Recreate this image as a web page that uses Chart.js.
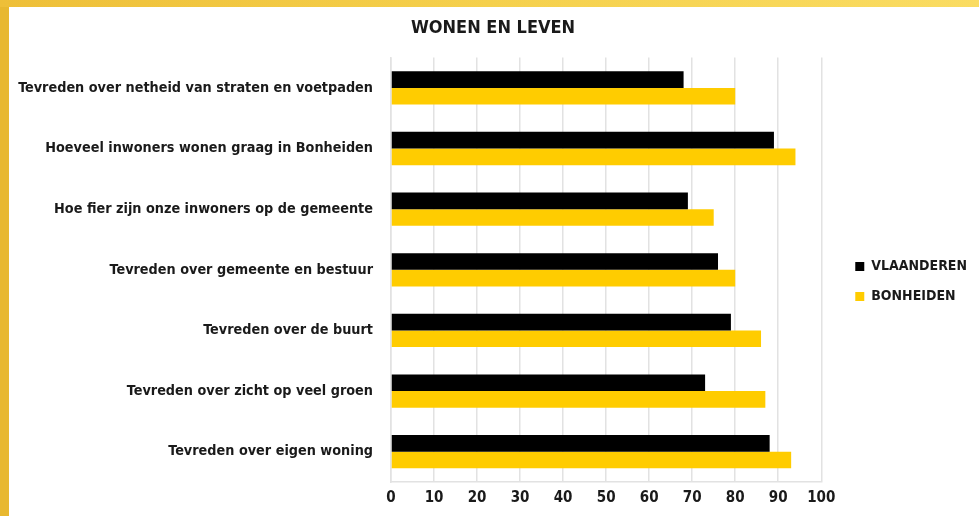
<!DOCTYPE html>
<html>
<head>
<meta charset="utf-8">
<script src="https://cdn.jsdelivr.net/npm/chart.js@4.4.1/dist/chart.umd.min.js"></script>
<style>
  html, body { margin: 0; padding: 0; }
  body {
    width: 979px; height: 516px; overflow: hidden;
    background: #e8b830;
    position: relative;
  }
  #topband {
    position: absolute; left: 0; top: 0; width: 979px; height: 7px;
    background: linear-gradient(to right, #eebf38, #f5d04c 50%, #fadc62);
  }
  #wrap {
    position: absolute; left: 9px; top: 7px; width: 970px; height: 509px;
    background: #fff;
  }
</style>
</head>
<body>
<div id="topband"></div>
<div id="wrap"><canvas id="grafico" width="970" height="509"></canvas></div>
<script>
    // Categorieën (van boven naar onder)
    const categorieen = [
        'Tevreden over netheid van straten en voetpaden',
        'Hoeveel inwoners wonen graag in Bonheiden',
        'Hoe fier zijn onze inwoners op de gemeente',
        'Tevreden over gemeente en bestuur',
        'Tevreden over de buurt',
        'Tevreden over zicht op veel groen',
        'Tevreden over eigen woning'
    ];

    // Percentages per reeks
    const vlaanderen = [68, 89, 69, 76, 79, 73, 88];
    const bonheiden = [80, 94, 75, 80, 86, 87, 93];

    // Tick labels van de x-as
    const xTicks = [0, 10, 20, 30, 40, 50, 60, 70, 80, 90, 100];

    const lettertype = "'Liberation Sans Narrow', 'DejaVu Sans Condensed', 'Roboto Condensed', sans-serif";

    Chart.defaults.font.family = lettertype;
    Chart.defaults.font.weight = 'bold';
    Chart.defaults.color = '#1a1a1a';

    const ctx = document.getElementById('grafico').getContext('2d');

    new Chart(ctx, {
        type: 'bar',
        data: {
            labels: categorieen,
            datasets: [
                {
                    label: 'VLAANDEREN',
                    data: vlaanderen,
                    backgroundColor: '#000000',
                    categoryPercentage: 0.55,
                    barPercentage: 1.0
                },
                {
                    label: 'BONHEIDEN',
                    data: bonheiden,
                    backgroundColor: '#ffcc00',
                    categoryPercentage: 0.55,
                    barPercentage: 1.0
                }
            ]
        },
        options: {
            indexAxis: 'y',
            responsive: false,
            animation: false,
            layout: { padding: { left: 0, right: 2, top: 0, bottom: 2 } },
            plugins: {
                title: {
                    display: true,
                    text: 'WONEN EN LEVEN',
                    font: { size: 18, weight: 'bold' },
                    color: '#1a1a1a',
                    padding: { top: 11, bottom: 18 }
                },
                legend: {
                    position: 'right',
                    // lege titel om de items wat lager te zetten
                    title: { display: true, text: '', font: { size: 10 }, padding: { top: 0, bottom: 30 } },
                    labels: {
                        boxWidth: 9,
                        boxHeight: 9,
                        padding: 16,
                        font: { size: 14, weight: 'bold' },
                        color: '#1a1a1a'
                    }
                },
                tooltip: { enabled: false }
            },
            scales: {
                x: {
                    min: 0,
                    max: 100,
                    afterBuildTicks: (scale) => {
                        scale.ticks = xTicks.map(v => ({ value: v }));
                    },
                    grid: {
                        color: '#e2e2e2',
                        lineWidth: 1.5,
                        drawTicks: false
                    },
                    border: { color: '#e2e2e2', width: 1.5 },
                    ticks: {
                        padding: 7,
                        font: { size: 15, weight: 'bold' },
                        color: '#1a1a1a'
                    }
                },
                y: {
                    afterFit: (scale) => { scale.width = 382; },
                    grid: { display: false, drawTicks: false },
                    border: { color: '#e2e2e2', width: 1.5 },
                    ticks: {
                        padding: 18,
                        font: { size: 14.3, weight: 'bold' },
                        color: '#1a1a1a'
                    }
                },
                // lege as rechts: ruimte tussen grafiek en legende
                yRuimte: {
                    type: 'category',
                    position: 'right',
                    afterFit: (scale) => { scale.width = 18; },
                    grid: { display: false, drawTicks: false },
                    border: { display: false },
                    ticks: { display: false }
                }
            }
        }
    });
</script>
</body>
</html>
